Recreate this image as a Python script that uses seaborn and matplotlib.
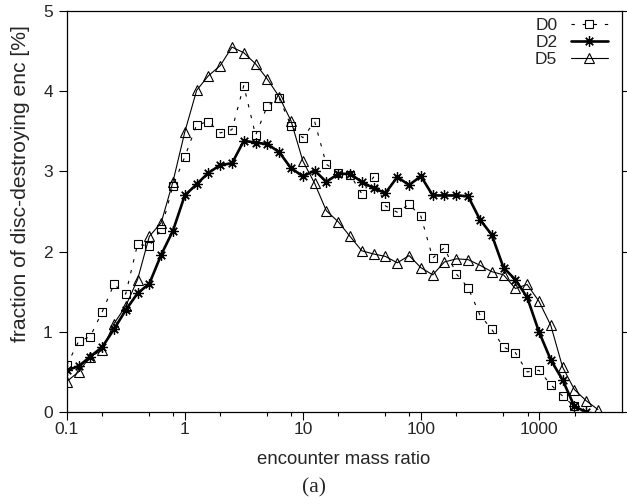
import numpy as np
import pandas as pd
import seaborn as sns
import matplotlib
matplotlib.use("Agg")
import matplotlib.pyplot as plt
from matplotlib.ticker import FixedLocator, NullFormatter

# ---- data ----
mass_ratio = [0.1, 0.126, 0.158, 0.2, 0.251, 0.316, 0.398, 0.501, 0.631, 0.794,
              1.0, 1.26, 1.58, 2.0, 2.51, 3.16, 3.98, 5.01, 6.31, 7.94,
              10.0, 12.6, 15.8, 20.0, 25.1, 31.6, 39.8, 50.1, 63.1, 79.4,
              100.0, 126.0, 158.0, 200.0, 251.0, 316.0, 398.0, 501.0, 631.0, 794.0,
              1000.0, 1259.0, 1585.0, 1995.0, 2512.0, 3162.0]

d0 = [0.58, 0.88, 0.94, 1.25, 1.59, 1.47, 2.09, 2.07, 2.28, 2.82,
      3.18, 3.58, 3.62, 3.48, 3.52, 4.07, 3.45, 3.82, 3.91, 3.57,
      3.42, 3.62, 3.09, 2.98, 2.96, 2.72, 2.93, 2.57, 2.49, 2.59,
      2.44, 1.92, 2.05, 1.72, 1.55, 1.21, 1.03, 0.81, 0.74, 0.50,
      0.52, 0.34, 0.20, 0.07]

d2 = [0.52, 0.57, 0.69, 0.81, 1.03, 1.27, 1.48, 1.60, 1.96, 2.26,
      2.70, 2.84, 2.98, 3.08, 3.10, 3.38, 3.36, 3.34, 3.24, 3.04,
      2.94, 3.01, 2.87, 2.97, 2.97, 2.87, 2.79, 2.73, 2.93, 2.83,
      2.94, 2.70, 2.70, 2.70, 2.69, 2.40, 2.21, 1.80, 1.65, 1.43,
      1.00, 0.65, 0.40, 0.07, 0.00]

d5 = [0.38, 0.50, 0.69, 0.77, 1.10, 1.32, 1.65, 2.19, 2.36, 2.87,
      3.49, 4.01, 4.19, 4.32, 4.55, 4.48, 4.34, 4.15, 3.93, 3.63,
      3.13, 2.85, 2.51, 2.37, 2.19, 2.01, 1.97, 1.94, 1.86, 1.95,
      1.80, 1.71, 1.87, 1.91, 1.90, 1.83, 1.75, 1.71, 1.54, 1.59,
      1.38, 1.08, 0.56, 0.28, 0.14, 0.03]

series_names = ["D0", "D2", "D5"]
x_ticks = [0.1, 1, 10, 100, 1000]
x_tick_labels = ["0.1", "1", "10", "100", "1000"]
y_ticks = [0, 1, 2, 3, 4, 5]

frames = []
for name, vals in zip(series_names, [d0, d2, d5]):
    frames.append(pd.DataFrame({"ratio": mass_ratio[:len(vals)],
                                "frac": vals, "set": name}))
df = pd.concat(frames, ignore_index=True)

# ---- style ----
sns.set_theme(style="ticks")
plt.rcParams["font.family"] = ["Liberation Sans", "DejaVu Sans"]

fig = plt.figure(figsize=(6.27, 5.04), dpi=100)
ax = fig.add_axes([66.7 / 627, 1 - 412 / 504, (621.5 - 66.7) / 627, (412 - 11) / 504])

styles = {
    "D0": dict(marker="s", ms=5.4, mfc="none", mec="black", mew=0.8,
               lw=0.8, linestyle=(0, (3, 7)), color="black"),
    "D2": dict(marker=(8, 2, 0), ms=7.5, mec="black", mew=0.9,
               lw=1.9, linestyle="-", color="black"),
    "D5": dict(marker="^", ms=7.0, mfc="none", mec="black", mew=0.8,
               lw=0.8, linestyle="-", color="black"),
}

for name in series_names:
    sub = df[df["set"] == name]
    sns.lineplot(data=sub, x="ratio", y="frac", ax=ax, label=name,
                 estimator=None, sort=False, **styles[name])

ax.set_xscale("log")
ax.set_xlim(0.1, 5000)
ax.set_ylim(0, 5)

ax.xaxis.set_major_locator(FixedLocator(x_ticks))
ax.set_xticklabels(x_tick_labels)
minor = []
for dec in [0.1, 1, 10, 100, 1000]:
    for m in (2, 5, 8):
        if dec * m < 5000:
            minor.append(dec * m)
ax.xaxis.set_minor_locator(FixedLocator(minor))
ax.xaxis.set_minor_formatter(NullFormatter())
ax.set_yticks(y_ticks)
ax.set_yticklabels([str(v) for v in y_ticks])

ax.tick_params(axis="x", which="major", direction="out", length=5.5, width=0.8,
               labelsize=12.5, pad=2, color="black", top=False)
ax.tick_params(axis="x", which="minor", direction="out", length=3, width=0.8,
               color="black", top=False)
ax.tick_params(axis="y", which="major", direction="out", length=6, width=0.8,
               labelsize=12.5, pad=4, color="black", right=True, left=True)
for sp in ax.spines.values():
    sp.set_visible(True)
    sp.set_color("black")
    sp.set_linewidth(0.9)

ax.set_xlabel("encounter mass ratio", fontsize=13.4)
ax.xaxis.set_label_coords(0.5, -0.098)
ax.set_ylabel("fraction of disc-destroying enc [%]", fontsize=15.2)
ax.yaxis.set_label_coords(-0.066, 0.569)

leg = ax.legend(loc="upper right", bbox_to_anchor=(0.975, 0.982), frameon=False,
                markerfirst=False, fontsize=12.5, handlelength=2.1,
                handletextpad=0.8, labelspacing=0.1, borderpad=0, borderaxespad=0)

fig.text(314 / 627, 1 - 488 / 504, "(a)", ha="center", va="center",
         fontsize=15.5, family=["Liberation Serif", "DejaVu Serif"])

fig.savefig("out.png", dpi=100)
